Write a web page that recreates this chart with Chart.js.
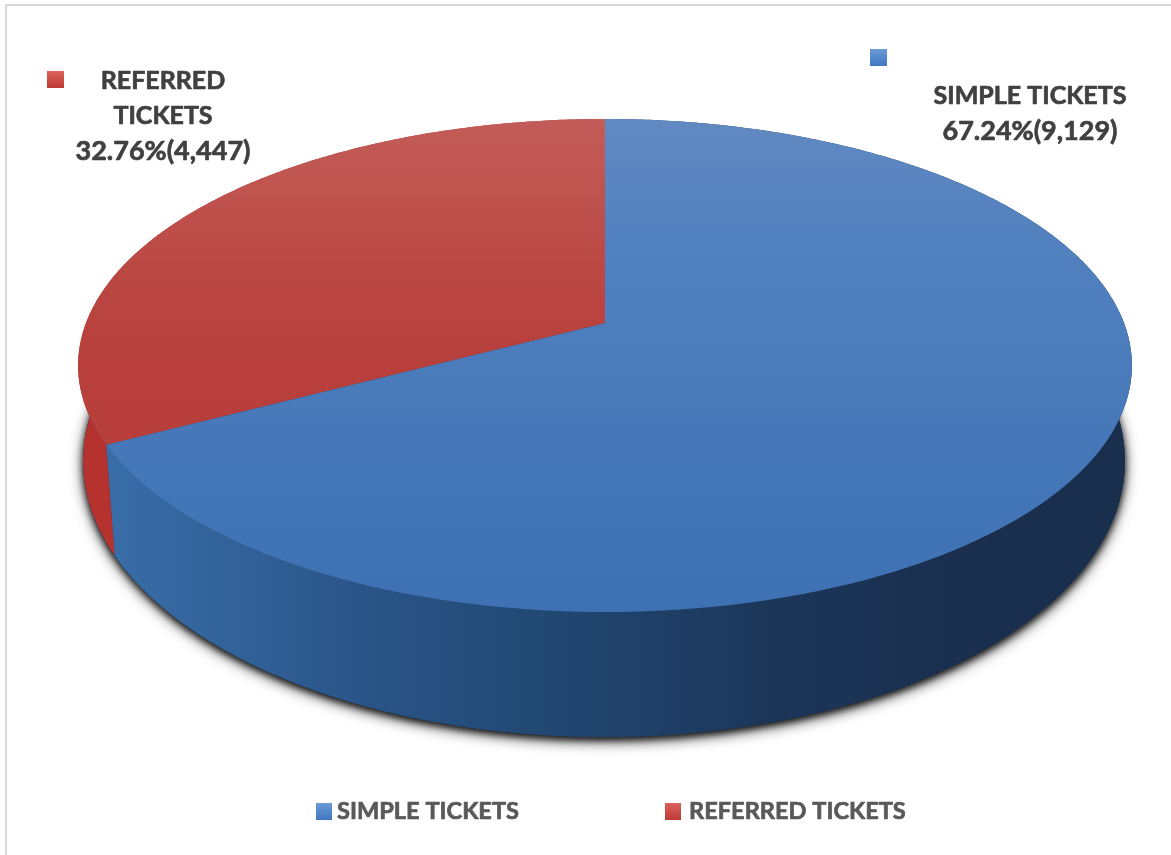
<!DOCTYPE html>
<html>
<head>
<meta charset="utf-8">
<style>
  html, body { margin: 0; padding: 0; background: #ffffff; }
  #wrap { width: 1171px; height: 855px; }
</style>
<script src="https://cdn.jsdelivr.net/npm/chart.js@4/dist/chart.umd.min.js"></script>
</head>
<body>
<div id="wrap"><canvas id="chart" width="1171" height="855"></canvas></div>
<script>
const categories = ['SIMPLE TICKETS', 'REFERRED TICKETS'];
const ticketCounts = [9129, 4447];
const baseColors = ['#4f81bd', '#c0504d'];

// Text blocks placed beside the pie, one per category.
const calloutNames = [['SIMPLE TICKETS'], ['REFERRED', 'TICKETS']];
const calloutStyle = [
  { cx: 1030, firstLine: 96, lineGap: 35, keyX: 870, keyY: 49 },
  { cx: 163, firstLine: 81, lineGap: 35, keyX: 47, keyY: 71 }
];

// Perspective of the two discs: a circle from the library is projected
// so that its centre sits behind the middle of the drawn ellipse.
const topDisc = { dx: 1, dy: 0, sx: 519 / 246.5, rY: 246.5, k: 0.1724 };
const baseDisc = { dx: 0, dy: 95.5, sx: 515 / 246.5, rY: 276, k: 0.15 };

function project(arc, disc, angle) {
  const u = Math.cos(angle), v = Math.sin(angle);
  const w = 1 - disc.k * v;
  return {
    x: arc.x + disc.dx + arc.outerRadius * disc.sx * u / w,
    y: arc.y + disc.dy + disc.rY * (v - disc.k) / w
  };
}

function tracePerimeter(ctx, arc, disc, from, to) {
  const steps = Math.max(2, Math.ceil(Math.abs(to - from) / 0.01));
  for (let i = 0; i <= steps; i++) {
    const p = project(arc, disc, from + (to - from) * i / steps);
    ctx.lineTo(p.x, p.y);
  }
}

function verticalGradient(ctx, y0, y1, stops) {
  const g = ctx.createLinearGradient(0, y0, 0, y1);
  stops.forEach(([o, c]) => g.addColorStop(o, c));
  return g;
}

function horizontalGradient(ctx, x0, x1, stops) {
  const g = ctx.createLinearGradient(x0, 0, x1, 0);
  stops.forEach(([o, c]) => g.addColorStop(o, c));
  return g;
}

// Bold text with a hairline outline for extra weight.
function heavyText(ctx, text, x, y) {
  ctx.lineWidth = 0.7;
  ctx.strokeStyle = ctx.fillStyle;
  ctx.lineJoin = 'round';
  ctx.strokeText(text, x, y);
  ctx.fillText(text, x, y);
}

const piePerspective = {
  id: 'piePerspective',
  beforeDraw(chart) {
    // Chart frame: light rule along the top and left edges.
    const ctx = chart.ctx;
    ctx.save();
    ctx.strokeStyle = '#d9d9d9';
    ctx.lineWidth = 2;
    ctx.beginPath();
    ctx.moveTo(6, 855);
    ctx.lineTo(6, 5);
    ctx.lineTo(1171, 5);
    ctx.stroke();
    ctx.restore();
  },
  beforeDatasetsDraw(chart) {
    const ctx = chart.ctx;
    const arcs = chart.getDatasetMeta(0).data;
    const first = arcs[0];

    // Soft drop shadow cast by the base of the pie: a wide pass and a tight one.
    [[14, 0.8, 4], [6, 0.7, 3]].forEach(([blur, alpha, drop]) => {
      ctx.save();
      ctx.shadowColor = 'rgba(0,0,0,' + alpha + ')';
      ctx.shadowBlur = blur;
      ctx.shadowOffsetX = 0;
      ctx.shadowOffsetY = drop;
      ctx.fillStyle = '#26405f';
      ctx.beginPath();
      tracePerimeter(ctx, first, baseDisc, 0, Math.PI * 2);
      ctx.closePath();
      ctx.fill();
      ctx.restore();
    });

    // Side walls, one per slice.
    const wallFills = [
      horizontalGradient(ctx, 105, 1130, [
        [0, '#3a6ea9'], [0.1, '#33649c'], [0.25, '#2a5588'], [0.45, '#214670'],
        [0.65, '#1c3659'], [0.85, '#1a2e4e'], [1, '#1a2e4e']
      ]),
      '#b5322f'
    ];
    arcs.forEach((arc, i) => {
      ctx.beginPath();
      const a0 = arc.startAngle, a1 = arc.endAngle;
      const s = project(arc, topDisc, a0);
      ctx.moveTo(s.x, s.y);
      tracePerimeter(ctx, arc, topDisc, a0, a1);
      tracePerimeter(ctx, arc, baseDisc, a1, a0);
      ctx.closePath();
      ctx.fillStyle = wallFills[i];
      ctx.fill();
    });

    // Top faces, shaded from a lit back edge to the front edge.
    const topFills = [
      verticalGradient(ctx, 119, 612, [[0, '#6189c1'], [0.25, '#5281bf'], [0.5, '#4a7bbb'], [1, '#3d71b4']]),
      verticalGradient(ctx, 119, 612, [[0, '#c25c58'], [0.12, '#c05550'], [0.3, '#bb4843'], [0.5, '#b83f3b'], [1, '#b73d39']])
    ];
    arcs.forEach((arc, i) => {
      const rim = project(arc, topDisc, arc.startAngle);
      const centre = { x: arc.x + topDisc.dx, y: arc.y + topDisc.dy - topDisc.rY * topDisc.k };
      ctx.beginPath();
      ctx.moveTo(centre.x, centre.y);
      ctx.lineTo(rim.x, rim.y);
      tracePerimeter(ctx, arc, topDisc, arc.startAngle, arc.endAngle);
      ctx.closePath();
      ctx.fillStyle = topFills[i];
      ctx.fill();
    });
    return false;
  },
  afterDraw(chart) {
    const ctx = chart.ctx;
    const values = chart.data.datasets[0].data;
    const total = values.reduce((a, b) => a + b, 0);

    const drawKey = (x, y, w, h, i) => {
      const stops = i === 0
        ? [[0, '#6b9ad6'], [1, '#3f78c2']]
        : [[0, '#da625c'], [1, '#bf3a36']];
      ctx.fillStyle = verticalGradient(ctx, y, y + h, stops);
      ctx.fillRect(x, y, w, h);
    };

    // Callout blocks with name, share of total and count.
    ctx.textAlign = 'center';
    ctx.textBaseline = 'middle';
    calloutNames.forEach((lines, i) => {
      const st = calloutStyle[i];
      drawKey(st.keyX, st.keyY, 17, 17, i);
      const pct = (values[i] / total * 100).toFixed(2);
      ctx.fillStyle = '#404040';
      ctx.font = '700 25px Lato';
      lines.forEach((t, n) => heavyText(ctx, t, st.cx, st.firstLine + n * st.lineGap));
      ctx.font = '700 27px Lato';
      heavyText(ctx, pct + '%(' + values[i].toLocaleString('en-US') + ')', st.cx, st.firstLine + lines.length * st.lineGap);
    });

    // Legend row beneath the pie.
    const legendAt = [{ key: 316, text: 337 }, { key: 665, text: 689 }];
    ctx.textAlign = 'left';
    chart.data.labels.forEach((label, i) => {
      drawKey(legendAt[i].key, 803, 16, 17, i);
      ctx.font = '700 23.6px Lato';
      ctx.fillStyle = '#595959';
      heavyText(ctx, label, legendAt[i].text, 811);
    });
  }
};

new Chart(document.getElementById('chart'), {
  type: 'pie',
  data: {
    labels: categories,
    datasets: [{ data: ticketCounts, backgroundColor: baseColors, borderWidth: 0 }]
  },
  options: {
    responsive: false,
    animation: false,
    layout: { padding: { top: 119, bottom: 243, left: 37, right: 0 } },
    plugins: { legend: { display: false }, tooltip: { enabled: false } }
  },
  plugins: [piePerspective]
});
</script>
</body>
</html>
